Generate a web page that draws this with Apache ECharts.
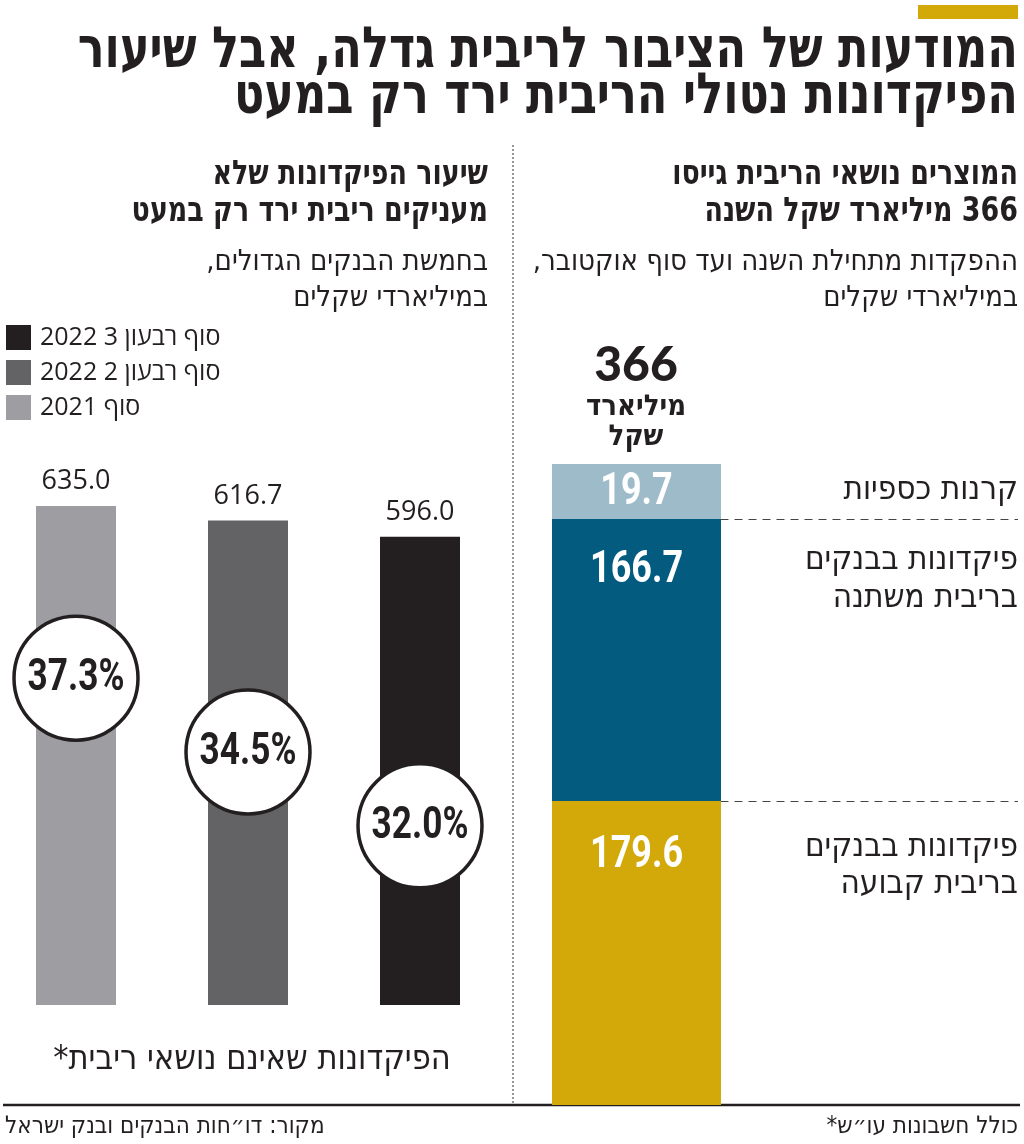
<!DOCTYPE html>
<html><head><meta charset="utf-8">
<script src="https://cdn.jsdelivr.net/npm/echarts@6/dist/echarts.min.js"></script>
<style>html,body{margin:0;padding:0;background:#fff}#c{width:1024px;height:1144px}</style>
</head><body><div id="c"></div>
<script>
// ---- data ----
const leftCategories = ['סוף 2021', 'סוף רבעון 2 2022', 'סוף רבעון 3 2022'];
const leftValues = [635.0, 616.7, 596.0];
const leftShares = ['37.3%', '34.5%', '32.0%'];
const circleLevels = [416, 322, 228]; // vertical anchor of share circles (axis units)
const rightCategories = [['פיקדונות בבנקים', 'בריבית קבועה'], ['פיקדונות בבנקים', 'בריבית משתנה'], ['קרנות כספיות']];
const rightValues = [179.6, 166.7, 19.7];
const rightTotal = 366;

// ---- styling ----
const HEB = "'DejaVu Sans Condensed','DejaVu Sans',sans-serif";
const SANS = "'Open Sans','DejaVu Sans',sans-serif";
const NUM = "Roboto,'DejaVu Sans',sans-serif";
const leftColors = ['#9d9da2', '#636366', '#231f20'];
const rightColors = ['#d3a90a', '#035b80', '#9dbbc9'];
const INK = '#231f20';
const MIN_H = 55;            // minimum drawn height of the small segment
const LABEL_DROP = [54, 51]; // value label centre below segment top
const R = s => '\u200F' + s + '\u200F';

const chart = echarts.init(document.getElementById('c'), null, {renderer: 'canvas'});

const leftSeries = leftCategories.map((name, i) => ({
  type: 'bar', name, stack: 'L', xAxisIndex: 0, yAxisIndex: 0,
  barWidth: 80, clip: false,
  data: leftValues.map((v, j) => j === i ? v : '-'),
  itemStyle: {color: leftColors[i]},
  label: {show: true, position: 'top', distance: 11, color: INK, fontSize: 27, fontFamily: SANS,
    formatter: p => Number(p.value).toFixed(1)}
}));

const circleSeries = {
  type: 'custom', xAxisIndex: 0, yAxisIndex: 0, z: 5, clip: false,
  data: circleLevels.map((y, i) => [i, y]),
  renderItem: (params, api) => {
    const p = api.coord([api.value(0), api.value(1)]);
    return {type: 'group', children: [
      {type: 'circle', shape: {cx: p[0], cy: p[1], r: 62}, style: {fill: '#fff', stroke: INK, lineWidth: 3.5}},
      {type: 'text', x: p[0], y: p[1] + 1, scaleX: 0.8, style: {text: leftShares[params.dataIndex], x: 0, y: 0,
        align: 'center', verticalAlign: 'middle', fontSize: 44, fontWeight: 'bold', fontFamily: NUM, fill: INK}}
    ]};
  }
};

let cum = 0;
const boundaries = rightValues.slice(0, 2).map(v => (cum += v, +cum.toFixed(1)));
const rightSeries = rightValues.map((v, i) => ({
  type: 'bar', stack: 'R', xAxisIndex: 1, yAxisIndex: 1, barWidth: 169, clip: false,
  barMinHeight: i === 2 ? MIN_H : 0,
  data: [v, '-'],
  itemStyle: {color: rightColors[i]},
  markLine: i === 0 ? {
    silent: true, symbol: 'none', z: 1,
    label: {show: false},
    lineStyle: {color: '#444', type: [8, 6], width: 1.2},
    data: boundaries.map(b => ({yAxis: b}))
  } : undefined
}));

const rightLabelSeries = {
  type: 'custom', xAxisIndex: 1, yAxisIndex: 1, z: 5, clip: false,
  data: rightValues.map((v, i) => [0, v]),
  renderItem: (params, api) => {
    const i = params.dataIndex;
    const base = rightValues.slice(0, i).reduce((a, b) => a + b, 0);
    const top = api.coord([0, base + rightValues[i]]);
    const bottom = api.coord([0, base]);
    const y = i === 2 ? bottom[1] - MIN_H / 2 : top[1] + LABEL_DROP[i];
    return {type: 'text', x: top[0], y: y + 1, scaleX: 0.8, style: {
      text: Number(rightValues[i]).toFixed(1), x: 0, y: 0, align: 'center', verticalAlign: 'middle',
      fontSize: 45, fontWeight: 'bold', fontFamily: NUM, fill: '#fff'}};
  }
};

function txt(text, x, y, size, weight, align, sx) {
  return {type: 'text', silent: true, x, y, scaleX: sx || 1, style: {
    text: R(text), x: 0, y: 0, fontSize: size, fontWeight: weight || 'normal',
    fontFamily: HEB, fill: INK, align: align || 'right', verticalAlign: 'middle'}};
}

const graphics = [
  {type: 'rect', silent: true, shape: {x: 918, y: 5, width: 100, height: 14}, style: {fill: '#d3a90a'}},
  txt('המודעות של הציבור לריבית גדלה, אבל שיעור', 1018, 52, 57, 'bold', 'right', 0.87),
  txt('הפיקדונות נטולי הריבית ירד רק במעט', 1018, 98, 57, 'bold', 'right', 0.87),
  txt('שיעור הפיקדונות שלא', 488, 175, 34, 'bold', 'right', 0.88),
  txt('מעניקים ריבית ירד רק במעט', 488, 212, 34, 'bold', 'right', 0.88),
  txt('בחמשת הבנקים הגדולים,', 488, 262, 29),
  txt('במיליארדי שקלים', 488, 298, 29),
  txt('המוצרים נושאי הריבית גייסו', 1018, 175, 34, 'bold', 'right', 0.88),
  txt(rightTotal + ' מיליארד שקל השנה', 1018, 212, 34, 'bold', 'right', 0.88),
  txt('ההפקדות מתחילת השנה ועד סוף אוקטובר,', 1018, 262, 29),
  txt('במיליארדי שקלים', 1018, 298, 29),
  {type: 'text', silent: true, style: {text: String(rightTotal), x: 636, y: 366, fontSize: 48, fontWeight: 900,
    fontFamily: "Lato,'DejaVu Sans',sans-serif", fill: INK, align: 'center', verticalAlign: 'middle'}},
  txt('מיליארד', 636, 407, 29, 'bold', 'center'),
  txt('שקל', 636, 437, 29, 'bold', 'center'),
  txt('הפיקדונות שאינם נושאי ריבית*', 252, 1060, 34, 'normal', 'center'),
  txt('מקור: דו״חות הבנקים ובנק ישראל', 5, 1127, 24, 'normal', 'left'),
  txt('כולל חשבונות עו״ש*', 1018, 1127, 24),
  {type: 'line', silent: true, shape: {x1: 513, y1: 145, x2: 513, y2: 1105}, style: {stroke: '#333', lineWidth: 1, lineDash: [2, 2]}},
  {type: 'line', silent: true, shape: {x1: 3, y1: 1105, x2: 1020, y2: 1105}, style: {stroke: INK, lineWidth: 2.5}}
];
// category labels for the stacked bar
const rightLabelY = [[847, 884], [560, 598], [490]];
rightCategories.forEach((lines, i) => lines.forEach((l, k) => graphics.push(txt(l, 1018, rightLabelY[i][k], 33))));

chart.setOption({
  animation: false,
  backgroundColor: '#fff',
  legend: {
    orient: 'vertical', left: 6, top: 325, padding: 0, itemWidth: 25, itemHeight: 25, itemGap: 10,
    icon: 'rect', selectedMode: false,
    data: leftCategories.slice().reverse(),
    formatter: n => R(n),
    textStyle: {fontSize: 25, fontFamily: SANS, color: INK, padding: [0, 0, 0, 4]}
  },
  grid: [
    {left: 76, right: 604, top: 455, bottom: 139},
    {left: 636.5, right: 6, top: 428, bottom: 39}
  ],
  xAxis: [
    {type: 'category', gridIndex: 0, data: leftCategories, boundaryGap: false, show: false},
    {type: 'category', gridIndex: 1, data: ['a', 'b'], boundaryGap: false, show: false}
  ],
  yAxis: [
    {type: 'value', gridIndex: 0, min: 0, max: 700, show: false},
    {type: 'value', gridIndex: 1, min: 0, max: 400, show: false}
  ],
  series: [...leftSeries, circleSeries, ...rightSeries, rightLabelSeries],
  graphic: graphics
});
</script></body></html>
